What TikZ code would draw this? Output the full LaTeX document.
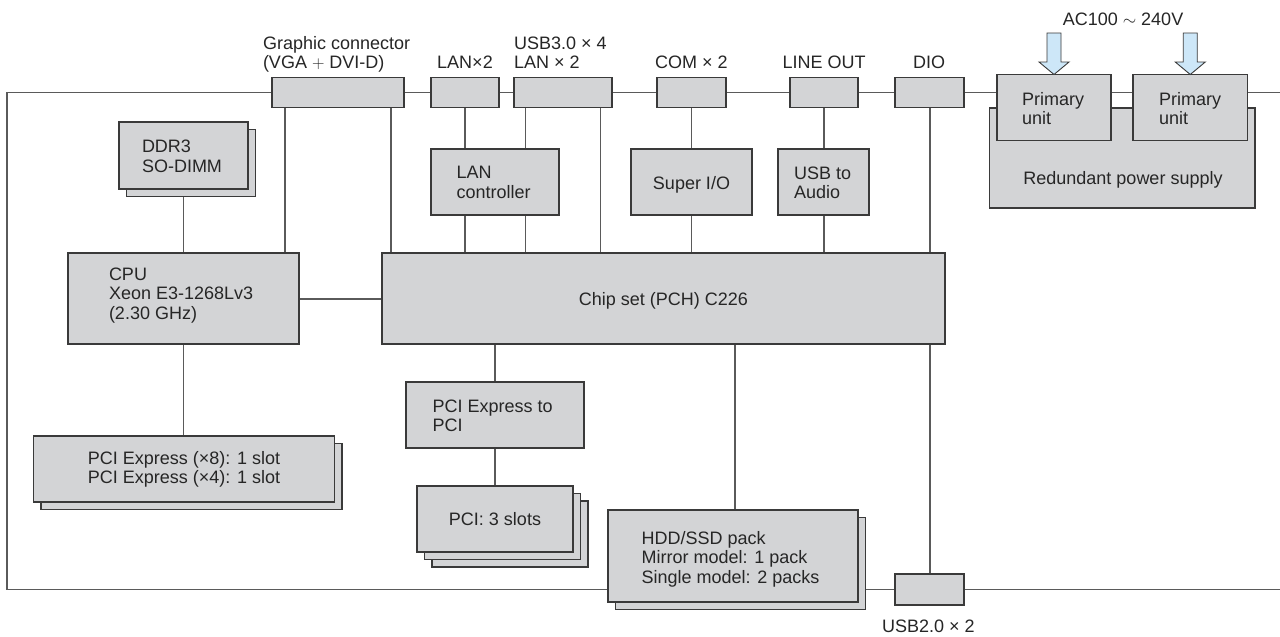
\documentclass[tikz,border=0pt]{standalone}
\usepackage{fontspec}
\setmainfont{Liberation Sans}
\usetikzlibrary{backgrounds}
\definecolor{boxfill}{HTML}{D3D4D6}
\definecolor{boxline}{HTML}{3A3A3A}
\definecolor{wire}{HTML}{5A5A5A}
\definecolor{txt}{HTML}{262626}
\definecolor{arrowfill}{HTML}{CDE7F8}
\newcommand{\fs}{\fontsize{18}{19.2}\selectfont}
\newcommand{\boxat}[5]{\node[box, minimum width={#4-#2}, minimum height={#5-#3}] (#1) at ({(#2+#4)/2},{(#3+#5)/2}) {};}
\begin{document}
\begin{tikzpicture}[x=1pt,y=-1pt,
  box/.style={draw=boxline, fill=boxfill, line width=1.2pt, inner sep=0pt, outer sep=0pt},
  lbl/.style={font=\fs, text=txt, inner sep=0pt, outer sep=0pt, align=left},
  clbl/.style={font=\fs, text=txt, inner sep=0pt, outer sep=0pt, align=center},
  wireline/.style={draw=wire, line width=1.2pt},
  inarrow/.style={draw=boxline, fill=arrowfill, line width=0.9pt, line join=miter}]
\useasboundingbox (0,0) rectangle (1280,637);

% frame corners
\coordinate (frtr) at (1280,92.5);
\coordinate (frtl) at (7,92.5);
\coordinate (frbl) at (7,589.5);
\coordinate (frbr) at (1280,589.5);

% top connectors
\boxat{gc}{272}{77.5}{404}{107.5}
\boxat{lan}{431}{77.5}{499}{107.5}
\boxat{usb3}{514}{77.5}{612}{107.5}
\boxat{com}{657}{77.5}{726}{107.5}
\boxat{lo}{790}{77.5}{858}{107.5}
\boxat{dio}{895}{77.5}{964}{107.5}

% power supply
\boxat{rps}{989.5}{108}{1255}{208}
\boxat{pu1}{997}{74.5}{1111}{140.5}
\boxat{pu2}{1133}{74.5}{1247.5}{140.5}

% memory and CPU
\boxat{ddrb}{126.5}{129.5}{255.5}{196.5}
\boxat{ddr}{119}{122}{248}{189}
\boxat{cpu}{68}{253}{299}{344}

% controllers
\boxat{lanc}{431}{149}{559}{215}
\boxat{sio}{631}{149}{752}{215}
\boxat{aud}{778}{149}{869}{215}
\boxat{pch}{382}{253}{945}{344}

% lower
\boxat{p2p}{406}{382}{584}{448}
\boxat{pcic}{432}{501}{588}{567}
\boxat{pcib}{424.5}{493.5}{580.5}{559.5}
\boxat{pci}{417}{486}{573}{552}
\boxat{pcieb}{41}{443.5}{342}{509.5}
\boxat{pcie}{33.5}{436}{334.5}{502}
\boxat{hddb}{615.5}{517.5}{865.5}{609.5}
\boxat{hdd}{608}{510}{858}{602}
\boxat{usb2}{895}{574}{964}{605}

% connectors
\begin{scope}[on background layer]
\fill[white] (0,0) rectangle (1280,637);
\draw[wireline] (frtr) -- (frtl) -- (frbl) -- (frbr);
\draw[wireline] (gc.south -| 285,0) -- (cpu.north -| 285,0);
\draw[wireline] (gc.south -| 391,0) -- (pch.north -| 391,0);
\draw[wireline] (lan.south -| 465,0) -- (lanc.north -| 465,0);
\draw[wireline] (lanc.south -| 465,0) -- (pch.north -| 465,0);
\draw[wireline] (usb3.south -| 525.5,0) -- (lanc.north -| 525.5,0);
\draw[wireline] (lanc.south -| 525.5,0) -- (pch.north -| 525.5,0);
\draw[wireline] (usb3.south -| 600.5,0) -- (pch.north -| 600.5,0);
\draw[wireline] (com.south) -- (sio.north);
\draw[wireline] (sio.south) -- (pch.north -| sio.south);
\draw[wireline] (lo.south) -- (aud.north -| lo.south);
\draw[wireline] (aud.south -| lo.south) -- (pch.north -| lo.south);
\draw[wireline] (dio.south -| 930,0) -- (pch.north -| 930,0);
\draw[wireline] (pch.south -| 930,0) -- (usb2.north -| 930,0);
\draw[wireline] (ddrb.south -| ddr.south) -- (cpu.north -| ddr.south);
\draw[wireline] (cpu.east |- 0,299) -- (pch.west |- 0,299);
\draw[wireline] (cpu.south -| ddr.south) -- (pcie.north -| ddr.south);
\draw[wireline] (pch.south -| p2p.north) -- (p2p.north);
\draw[wireline] (p2p.south) -- (pci.north -| p2p.south);
\draw[wireline] (pch.south -| 735,0) -- (hdd.north -| 735,0);
\end{scope}

% power input arrows
\draw[inarrow] (pu1.north) -- ++(-15,-12.5) -- ++(8,0) -- ++(0,-29) -- ++(14,0) -- ++(0,29) -- ++(8,0) -- cycle;
\draw[inarrow] (pu2.north) -- ++(-15,-12.5) -- ++(8,0) -- ++(0,-29) -- ++(14,0) -- ++(0,29) -- ++(8,0) -- cycle;

% labels (base anchor = baseline of the last line)
\node[lbl, anchor=base west] (tgc) at (263,68.2) {Graphic connector\\(VGA $+$ DVI-D)};
\node[clbl, anchor=base] (tlan) at (465,68) {LAN×2};
\node[lbl, anchor=base west] (tusb3) at (514,68.2) {USB3.0 × 4\\LAN × 2};
\node[clbl, anchor=base] (tcom) at (691.5,68) {COM × 2};
\node[clbl, anchor=base] (tlo) at (824,68) {LINE OUT};
\node[clbl, anchor=base] (tdio) at (929,68) {DIO};
\node[clbl, anchor=base] (tac) at (1123,25) {AC100 $\sim$ 240V};
\node[lbl, anchor=base west] (tpu1) at (1022,124.5) {Primary\\unit};
\node[lbl, anchor=base west] (tpu2) at (1159,124.5) {Primary\\unit};
\node[clbl, anchor=base] (trps) at (1123,184) {Redundant power supply};
\node[lbl, anchor=base west] (tddr) at (142,172) {DDR3\\SO-DIMM};
\node[lbl, anchor=base west] (tcpu) at (109,319) {CPU\\Xeon E3-1268Lv3\\(2.30 GHz)};
\node[lbl, anchor=base west] (tlanc) at (456.7,198) {LAN\\controller};
\node[clbl, anchor=base] (tsio) at (691.5,189) {Super I/O};
\node[lbl, anchor=base west] (taud) at (794,198.3) {USB to\\Audio};
\node[clbl, anchor=base] (tpch) at (663.5,305) {Chip set (PCH) C226};
\node[lbl, anchor=base west] (tp2p) at (432.7,431.7) {PCI Express to\\PCI};
\node[clbl, anchor=base] (tpci) at (495,525.7) {PCI: 3 slots};
\node[clbl, anchor=base] (tpcie) at (184,483.5) {PCI Express (×8): 1 slot\\PCI Express (×4): 1 slot};
\node[lbl, anchor=base west] (thdd) at (641.7,583) {HDD/SSD pack\\Mirror model: 1 pack\\Single model: 2 packs};
\node[lbl, anchor=base west] (tusb2) at (882,632) {USB2.0 × 2};
\end{tikzpicture}
\end{document}
